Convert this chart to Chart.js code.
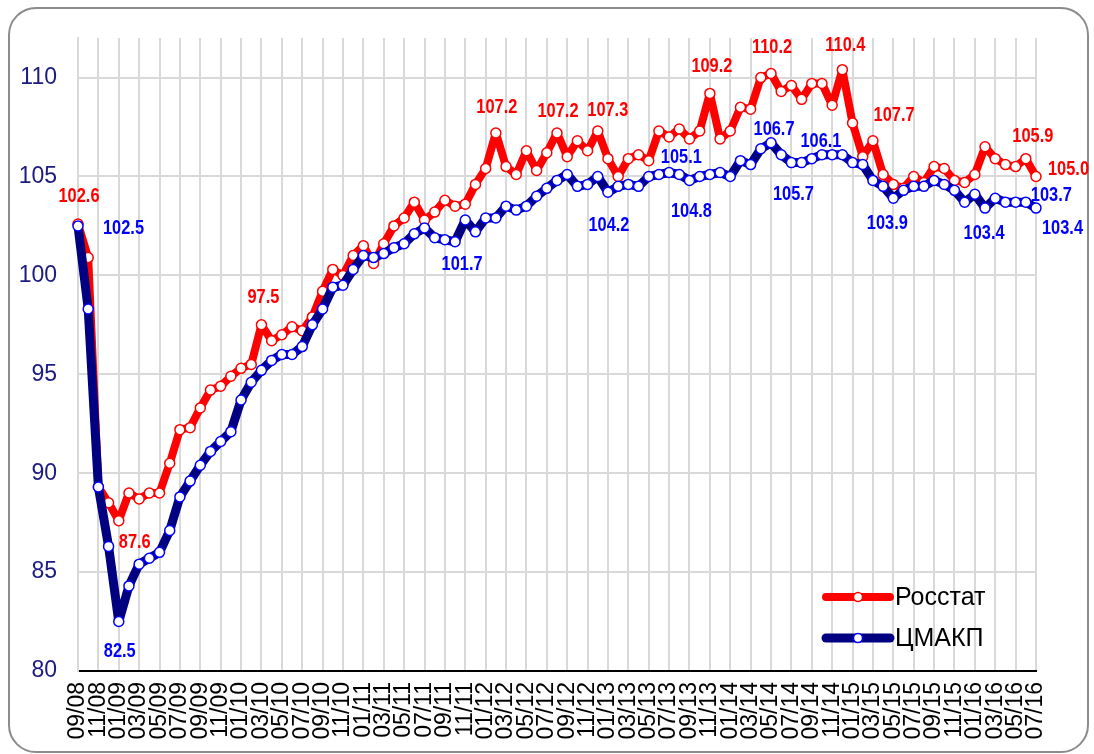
<!DOCTYPE html>
<html>
<head>
<meta charset="utf-8">
<script src="https://cdn.jsdelivr.net/npm/chart.js@4.4.1/dist/chart.umd.min.js"></script>
<style>
  body { margin: 0; background: #fff; }
  #frame {
    position: absolute; left: 8px; top: 7px; width: 1081px; height: 746px;
    box-sizing: border-box; border: 2px solid #8c8c8c; border-radius: 28px;
  }
  #wrap { position: absolute; left: 0; top: 0; width: 1094px; height: 754px; }
</style>
</head>
<body>
<div id="frame"></div>
<div id="wrap"><canvas id="mycanvas" width="1094" height="754"></canvas></div>
<script>
// months 09/08 .. 07/16
var months = [
  "09/08","10/08","11/08","12/08",
  "01/09","02/09","03/09","04/09","05/09","06/09","07/09","08/09","09/09","10/09","11/09","12/09",
  "01/10","02/10","03/10","04/10","05/10","06/10","07/10","08/10","09/10","10/10","11/10","12/10",
  "01/11","02/11","03/11","04/11","05/11","06/11","07/11","08/11","09/11","10/11","11/11","12/11",
  "01/12","02/12","03/12","04/12","05/12","06/12","07/12","08/12","09/12","10/12","11/12","12/12",
  "01/13","02/13","03/13","04/13","05/13","06/13","07/13","08/13","09/13","10/13","11/13","12/13",
  "01/14","02/14","03/14","04/14","05/14","06/14","07/14","08/14","09/14","10/14","11/14","12/14",
  "01/15","02/15","03/15","04/15","05/15","06/15","07/15","08/15","09/15","10/15","11/15","12/15",
  "01/16","02/16","03/16","04/16","05/16","06/16","07/16"
];

var rosstat = [
  102.6, 100.9, 89.3, 88.5, 87.6, 89.0, 88.7, 89.0, 89.0, 90.5,
  92.2, 92.3, 93.3, 94.2, 94.4, 94.9, 95.3, 95.5, 97.5, 96.7,
  97.0, 97.4, 97.2, 97.9, 99.2, 100.3, 100.0, 101.0, 101.5, 100.6,
  101.6, 102.5, 102.9, 103.7, 102.8, 103.2, 103.8, 103.5, 103.6, 104.6,
  105.4, 107.2, 105.5, 105.1, 106.3, 105.3, 106.2, 107.2, 106.0, 106.8,
  106.3, 107.3, 105.9, 105.0, 105.9, 106.1, 105.8, 107.3, 107.0, 107.4,
  106.9, 107.3, 109.2, 106.9, 107.3, 108.5, 108.4, 110.0, 110.2, 109.3,
  109.6, 108.9, 109.7, 109.7, 108.6, 110.4, 107.7, 106.0, 106.8, 105.1,
  104.6, 104.4, 105.0, 104.7, 105.5, 105.4, 104.8, 104.7, 105.1, 106.5,
  105.9, 105.6, 105.5, 105.9, 105.0
];

var cmakp = [
  102.5, 98.3, 89.3, 86.3, 82.5, 84.3, 85.4, 85.7, 86.0, 87.1,
  88.8, 89.6, 90.4, 91.1, 91.6, 92.1, 93.7, 94.6, 95.2, 95.7,
  96.0, 96.0, 96.4, 97.5, 98.3, 99.4, 99.5, 100.3, 101.0, 100.9,
  101.1, 101.4, 101.6, 102.1, 102.4, 101.9, 101.8, 101.7, 102.8, 102.2,
  102.9, 102.9, 103.5, 103.3, 103.5, 104.0, 104.4, 104.8, 105.1, 104.5,
  104.6, 105.0, 104.2, 104.5, 104.6, 104.5, 105.0, 105.1, 105.2, 105.1,
  104.8, 105.0, 105.1, 105.2, 105.0, 105.8, 105.6, 106.4, 106.7, 106.1,
  105.7, 105.7, 105.9, 106.1, 106.1, 106.1, 105.7, 105.6, 104.8, 104.5,
  103.9, 104.3, 104.5, 104.5, 104.8, 104.6, 104.3, 103.7, 104.1, 103.4,
  103.9, 103.7, 103.7, 103.7, 103.4
];

var yTicks = [80, 85, 90, 95, 100, 105, 110];

// which points carry a value label
var rosstatLabelIdx = [0, 4, 18, 41, 47, 51, 62, 68, 75, 76, 93, 94];
var cmakpLabelIdx = [0, 4, 37, 52, 59, 60, 68, 70, 73, 80, 89, 93, 94];

// where each label sits relative to its point
var labelPlace = {
  0: { // rosstat
    0: ['center', 1, -28], 4: ['left', 0, 22], 18: ['center', 2, -28],
    41: ['center', 1, -26], 47: ['center', 1, -22], 51: ['center', 10, -21],
    62: ['center', 2, -27], 68: ['center', 1, -26], 75: ['center', 3, -24],
    76: ['left', 21, -8], 93: ['center', 7, -22], 94: ['left', 12, -7]
  },
  1: { // cmakp
    0: ['left', 25, 2], 4: ['center', 1, 30], 37: ['center', 7, 22],
    52: ['center', 1, 33], 59: ['center', 2, -17], 60: ['center', 2, 31],
    68: ['center', 3, -14], 70: ['center', 2, 32], 73: ['center', -1, -14],
    80: ['center', -6, 25], 89: ['center', -1, 25], 93: ['left', 5, -7],
    94: ['left', 6, 20]
  }
};
var labelIdx = [rosstatLabelIdx, cmakpLabelIdx];
var labelColors = ['#ff0000', '#0000ff'];

var valueLabels = {
  id: 'valueLabels',
  afterDatasetsDraw: function(chart) {
    var ctx = chart.ctx;
    for (var d = 0; d < 2; d++) {
      var meta = chart.getDatasetMeta(d);
      var vals = chart.data.datasets[d].data;
      labelIdx[d].forEach(function(i) {
        var p = meta.data[i];
        var pl = labelPlace[d][i];
        ctx.save();
        ctx.translate(p.x + pl[1], p.y + pl[2]);
        ctx.scale(0.78, 1); // narrow face
        ctx.font = "bold 21px 'Liberation Sans', Arial, sans-serif";
        ctx.textBaseline = 'middle';
        ctx.textAlign = pl[0];
        ctx.fillStyle = labelColors[d];
        ctx.fillText(vals[i].toFixed(1), 0, 0);
        ctx.restore();
      });
    }
  }
};

// legend drawn inside the plot, bottom right
var innerLegend = {
  id: 'innerLegend',
  afterDraw: function(chart) {
    var ctx = chart.ctx;
    var area = chart.chartArea;
    var x0 = area.right - 210, x1 = area.right - 146;
    var rows = [area.bottom - 74, area.bottom - 33];
    ctx.save();
    chart.data.datasets.forEach(function(ds, k) {
      var y = rows[k];
      ctx.strokeStyle = ds.borderColor;
      ctx.lineWidth = ds.borderWidth;
      ctx.lineCap = 'round';
      ctx.beginPath();
      ctx.moveTo(x0, y);
      ctx.lineTo(x1, y);
      ctx.stroke();
      ctx.beginPath();
      ctx.arc((x0 + x1) / 2, y, 4.5, 0, Math.PI * 2);
      ctx.fillStyle = '#fff';
      ctx.fill();
      ctx.lineWidth = 1.5;
      ctx.strokeStyle = ds.pointBorderColor;
      ctx.stroke();
      ctx.fillStyle = '#000';
      ctx.font = "25px 'Liberation Sans', Arial, sans-serif";
      ctx.textAlign = 'left';
      ctx.textBaseline = 'middle';
      ctx.fillText(ds.label, x1 + 5, y + 1);
    });
    ctx.restore();
  }
};

var ctx = document.getElementById('mycanvas');
var chart = new Chart(ctx, {
  type: 'line',
  data: {
    labels: months,
    datasets: [
      {
        label: 'Росстат',
        data: rosstat,
        borderColor: '#ff0000',
        borderWidth: 8,
        borderJoinStyle: 'round',
        pointRadius: 5,
        pointBackgroundColor: '#ffffff',
        pointBorderColor: '#ff0000',
        pointBorderWidth: 1.5,
        tension: 0,
        order: 2
      },
      {
        label: 'ЦМАКП',
        data: cmakp,
        borderColor: '#000080',
        borderWidth: 9,
        borderJoinStyle: 'round',
        pointRadius: 5,
        pointBackgroundColor: '#ffffff',
        pointBorderColor: '#0000ff',
        pointBorderWidth: 1.5,
        tension: 0,
        order: 1
      }
    ]
  },
  options: {
    responsive: false,
    animation: false,
    devicePixelRatio: 1,
    layout: { padding: { left: 0, right: 58, top: 38, bottom: 0 } },
    plugins: {
      legend: { display: false },
      tooltip: { enabled: false }
    },
    scales: {
      x: {
        offset: false,
        afterFit: function(scale) { scale.height = 83; },
        grid: { color: '#d9d9d9', lineWidth: 2, drawTicks: false },
        border: { display: true, color: '#000000', width: 2 },
        ticks: {
          autoSkip: false,
          minRotation: 90,
          maxRotation: 90,
          padding: 11,
          color: '#000000',
          font: { family: "'Liberation Sans', Arial, sans-serif", size: 23 },
          callback: function(val, idx) {
            return idx % 2 === 0 ? months[idx] : null;
          }
        }
      },
      y: {
        min: 80,
        max: 112,
        afterFit: function(scale) { scale.width = 78; },
        grid: { color: '#d9d9d9', lineWidth: 2, drawTicks: false },
        border: { display: true, color: '#d9d9d9', width: 2 },
        ticks: {
          stepSize: 5,
          padding: 21,
          color: '#1a1a80',
          font: { family: "'Liberation Sans', Arial, sans-serif", size: 23 },
          callback: function(v) {
            return yTicks.indexOf(v) >= 0 ? v : null;
          }
        }
      }
    }
  },
  plugins: [valueLabels, innerLegend]
});
</script>
</body>
</html>
